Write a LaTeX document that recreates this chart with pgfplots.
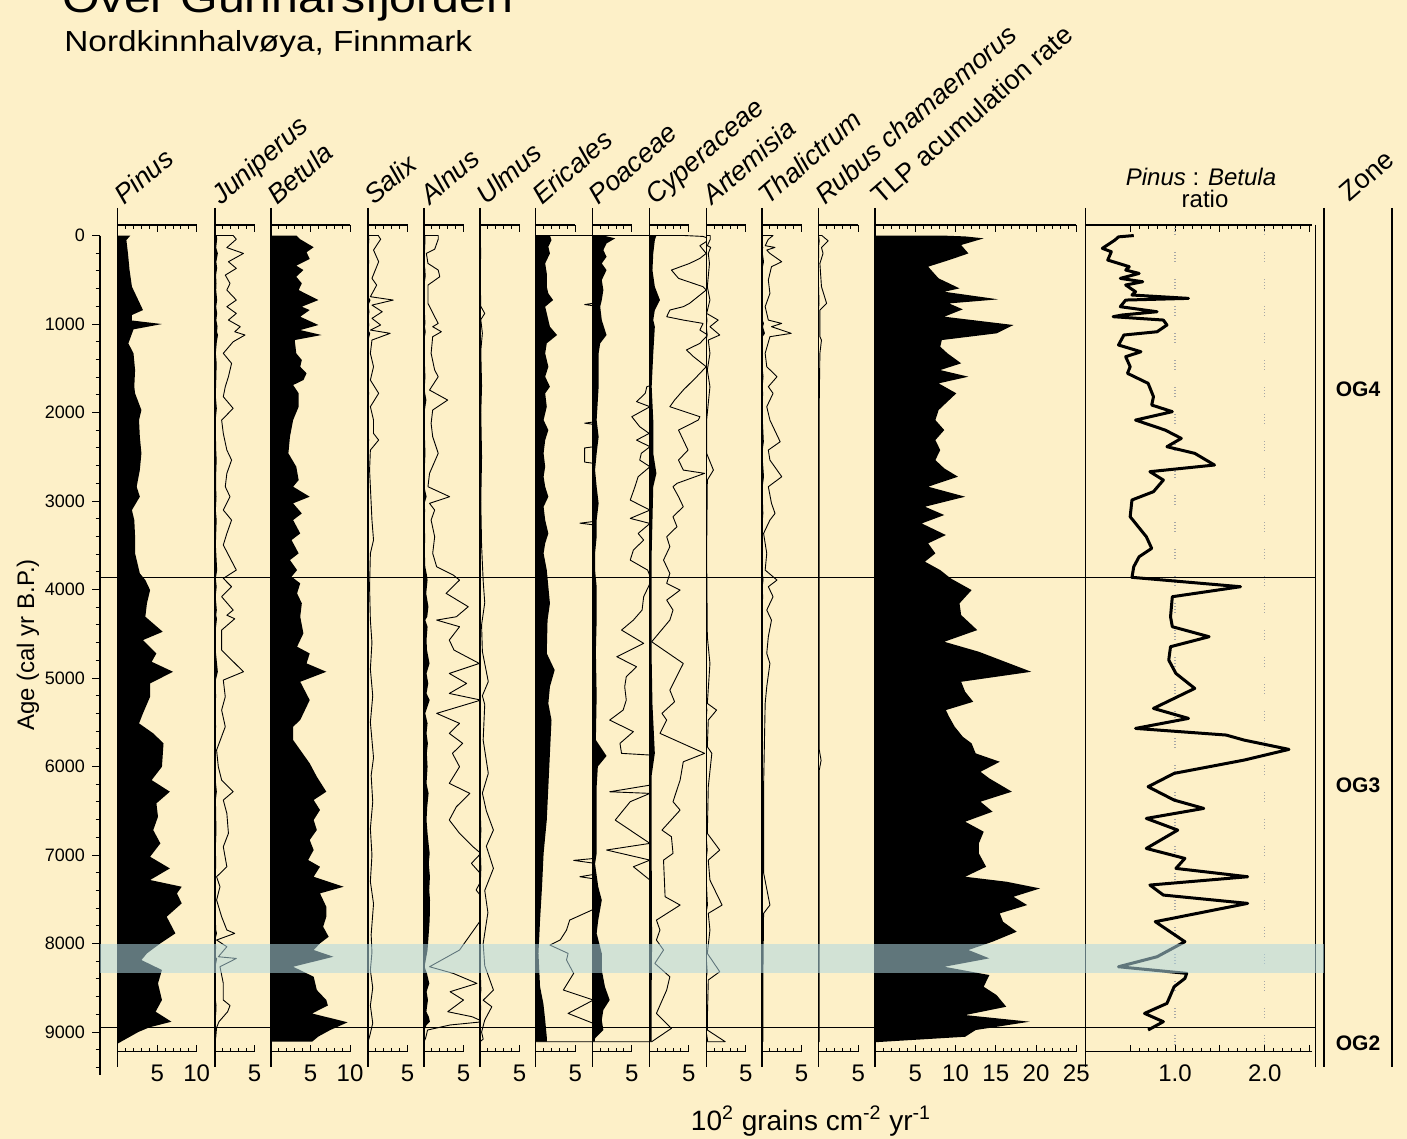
\documentclass[border=0pt]{standalone}
\usepackage{pgfplots}
\usepackage{pgfplotstable}
\pgfplotsset{compat=1.18}
\usepackage{fontspec}
\setmainfont{Liberation Sans}
\newfontfamily\widefont{Liberation Sans}[FakeStretch=1.15]
\definecolor{bg}{RGB}{253,240,200}
\definecolor{bandc}{RGB}{175,215,225}

\pgfplotsset{
  panel/.style={
    scale only axis, y dir=reverse, ymin=-119, ymax=9220, xmin=0,
    height=413.25pt, anchor=north west,
    axis x line*=box, axis y line=none,
    x axis line style={draw=none},
    ytick=\empty,
    tick align=inside, xtick pos=both, xticklabel pos=left,
    major tick length=3.5pt, minor tick length=2pt,
    tick style={black, line width=0.5pt},
    xticklabel style={font=\fontsize{12}{12}\selectfont, yshift=-3pt},
    /pgf/number format/assume math mode=true,
  },
  thin/.style={black, line width=0.45pt, line join=round},
  sil/.style={fill=black, draw=none},
}

\pgfplotstableread{
v a
0 0
2.3 0
2.7 42
1.5 136
3.6 202
1.7 296
2.7 371
1.3 447
1.9 541
1.5 616
2.7 729
1.5 804
2.7 880
1.7 955
3.2 1030
2.5 1087
3.8 1124
2.3 1200
1.05 1331
2.1 1444
1.7 1595
1.3 1708
1.05 1821
2.3 1953
0.84 2085
1.05 2236
1.5 2424
2.1 2537
1.5 2687
1.3 2838
1.9 2951
1.05 3102
2.1 3215
1.5 3366
1.05 3497
2.7 3780
1.05 3874
2.1 3968
0.84 4081
2.3 4232
1.5 4290
2.5 4330
0.84 4458
0.84 4684
3.6 4929
1.05 5023
1.3 5211
0.84 5362
1.3 5550
0.2 5814
0.42 6002
0.84 6153
2.3 6284
1.05 6379
1.5 6529
1.7 6755
1.05 6906
1.5 7132
0.2 7245
0.63 7358
0.2 7508
0.84 7697
1.5 7847
2.5 7885
0.2 7960
1.5 8036
0.42 8149
2.7 8168
0.63 8262
1.05 8450
1.05 8638
1.9 8700
1.6 8770
0.5 8883
0.2 8950
0.1 9053
0 9109
}\juni

\pgfplotstableread{
v a
0 0
1.3 0
1.6 42
0.7 164
1.35 296
0.5 484
1.1 560
0.3 691
3.2 729
0.5 786
1.8 861
0.5 936
1.6 1011
0.3 1068
2.8 1105
0.5 1181
0.3 1331
0.7 1482
0.3 1633
1.35 1783
0.3 1934
0.7 2085
0.7 2236
1.35 2311
0.3 2424
0.2 2650
0.3 2838
0.5 3215
0.7 3441
0.3 3591
0.2 3968
0.3 4345
0.5 4600
0.3 4900
0.6 5200
0.3 5500
0.7 5900
0.4 6100
0.6 6400
0.3 6700
0.5 7000
0.3 7300
0.7 7550
0.4 7900
0.5 8100
0.3 8300
0.6 8500
0.3 8700
0.6 8900
0.2 9050
0 9109
}\salix

\pgfplotstableread{
v a
0 0
1.8 0
1.8 42
1.35 155
0.3 202
0.5 315
1.8 390
2.0 465
0.5 560
0.5 616
0.5 767
1.35 917
1.8 993
1.1 1030
2.2 1087
1.1 1143
0.9 1331
1.35 1520
1.8 1595
0.7 1746
3.0 1859
1.1 1972
0.9 2123
1.1 2273
1.8 2461
0.7 2687
0.5 2838
3.25 2951
0.7 3026
1.35 3102
0.9 3215
1.35 3403
1.1 3591
1.6 3742
3.7 3836
4.5 3893
2.8 4043
5.6 4194
4.1 4307
1.6 4345
4.5 4420
3.2 4571
3.8 4684
7.0 4835
3.2 4948
5.4 5061
3.2 5174
7.2 5249
1.6 5399
4.5 5512
3.2 5625
4.9 5738
3.6 5851
4.5 6002
3.2 6190
5.8 6303
4.1 6454
3.2 6604
4.5 6755
6.2 6906
7.2 6981
6.0 7094
7.5 7245
6.6 7395
7.6 7508
7.2 7734
5.4 7960
4.5 8073
0.7 8262
3.7 8337
6.7 8450
3.3 8544
5.0 8638
3.0 8770
6.1 8827
7.5 8883
3.3 8920
0.45 8977
0.2 9070
0 9109
}\alnus

\pgfplotstableread{
v a
0 0
0.1 200
0 400
0.1 800
0.6 880
0.1 950
0.3 1105
0.1 1300
0.2 1700
0.1 2000
0.2 2500
0.1 3000
0.2 3500
0.4 3900
0.6 4150
0.2 4400
0.3 4700
1.05 5040
0.3 5200
0.6 5300
0.4 5700
1.05 6077
0.3 6300
0.8 6500
1.7 6718
0.8 6900
1.7 7151
0.6 7400
1.0 7650
0.4 8000
0.6 8250
1.7 8525
0.4 8640
1.5 8714
0.6 8864
0.2 9000
0.4 9080
0 9109
}\ulmus

\pgfplotstableread{
v a
0 0
0.5 0
0.5 42
0.13 115
0.55 134
0.25 202
0.4 315
0.13 578
0.46 729
0.04 880
1.5 955
0.46 1030
1.7 1124
0.25 1181
0.46 1331
0.13 1520
0.46 1708
0.25 1896
0.04 2085
0.04 2461
0.9 2650
0.13 2763
0.04 3591
0.13 4533
0.46 4835
0.13 5287
1.3 5362
0.25 5475
0.13 5776
0.7 5851
0.25 6228
0.13 6755
1.7 6944
0.25 7057
0.46 7283
2.0 7565
0.25 7659
0.46 7847
0.13 8111
1.7 8318
0.25 8412
0.13 8864
0.13 8977
2.4 9109
0 9109
}\artem

\pgfplotstableread{
v a
0 0
1.4 0
0.8 42
0.4 115
1.65 134
0.6 164
1.0 202
2.5 296
1.2 352
0.8 503
1.0 654
0.4 804
0.8 955
2.5 993
1.2 1030
3.7 1105
1.0 1143
0.4 1331
0.6 1482
1.9 1595
0.8 1708
1.4 1783
0.6 1934
1.0 2085
2.3 2330
0.8 2424
1.0 2537
2.5 2725
0.8 2838
1.2 3026
1.65 3140
1.0 3215
0.2 3366
0.6 3591
0.4 3780
1.9 3893
0.8 3968
1.4 4081
0.6 4232
1.2 4345
0.8 4533
0.6 4721
1.0 4835
0.6 5098
0.4 5287
0.2 6228
0.2 7200
1.0 7565
0.2 7659
0.1 8500
0.1 9109
0 9109
}\thal

\pgfplotstableread{
v a
0 0
0.4 0
1.2 60
0.35 136
0.55 202
0.15 315
0.35 578
1.0 766
0.15 842
0.15 1143
0.35 1181
0.15 1331
0.05 2000
0.05 5800
0.3 5930
0.05 6050
0.05 9109
0 9109
}\rubus

\begin{document}
\begin{tikzpicture}[x=0.5pt,y=-0.5pt]
\useasboundingbox (0,0) rectangle (1407,1139);
\clip (0,0) rectangle (1407,1139);
\fill[bg] (0,0) rectangle (1407,1139);

% ---------- Age axis ----------
\begin{axis}[scale only axis, at={(50pt,-117.75pt)}, anchor=north west,
  width=2pt, height=419.5pt, xmin=0, xmax=1, ymin=0, ymax=9480, y dir=reverse,
  axis y line*=left, axis x line=none,
  ytick={0,1000,...,9000}, minor ytick={200,400,...,9400},
  tick align=outside, major tick length=4pt, minor tick length=2.2pt,
  tick style={black, line width=0.5pt}, axis line style={line width=0.6pt},
  yticklabel style={font=\fontsize{9}{9}\selectfont},
  /pgf/number format/1000 sep={}, /pgf/number format/assume math mode=true]
\addplot[draw=none] coordinates {(0,0)};
\end{axis}

% ---------- Pinus ----------
\begin{axis}[panel, at={(58.85pt,-112.5pt)}, width=48.65pt, xmax=12.316,
  xtick={5,10}, minor xtick={1,2,3,4,6,7,8,9}]
\addplot[sil] coordinates {(0,0)(1.6,0)(1.1,51)(1.3,202)(1.5,390)(1.8,578)(2.4,691)(3.2,842)(1.8,898)(1.8,960)(5.6,1000)(2.0,1060)(1.35,1218)(2.0,1331)(2.2,1520)(2.1,1708)(2.2,1783)(3.0,1972)(2.7,2085)(2.8,2273)(3.0,2461)(2.8,2650)(2.4,2838)(2.8,2951)(1.8,3102)(2.1,3215)(2.2,3403)(2.2,3591)(2.8,3817)(3.5,3893)(4.1,4006)(3.7,4156)(3.5,4307)(5.7,4477)(3.2,4571)(4.9,4722)(4.3,4816)(7.0,4929)(4.1,5061)(4.1,5211)(3.2,5399)(2.7,5512)(4.5,5625)(5.8,5738)(5.6,6002)(4.3,6153)(6.6,6284)(4.9,6416)(5.1,6567)(4.5,6718)(5.4,6868)(4.1,7019)(6.6,7151)(4.1,7282)(8.1,7358)(7.5,7433)(8.1,7546)(6.2,7697)(7.3,7885)(5.4,7998)(3.7,8111)(3.0,8186)(5.6,8299)(5.1,8450)(5.6,8638)(4.8,8770)(6.8,8883)(4.0,8947)(2.6,9000)(0,9130)};
\end{axis}

% ---------- Juniperus ----------
\begin{axis}[panel, at={(107.5pt,-112.5pt)}, width=28pt, xmax=7.089,
  xtick={5}, minor xtick={1,2,3,4}]
\addplot[sil] table[x expr=\thisrow{v}/10, y=a]{\juni};
\addplot[thin] table[x=v, y=a]{\juni};
\end{axis}

% ---------- Betula ----------
\begin{axis}[panel, at={(135.5pt,-112.5pt)}, width=48.5pt, xmax=12.278,
  xtick={5,10}, minor xtick={1,2,3,4,6,7,8,9}]
\addplot[sil] coordinates {(0,0)(3.2,0)(3.7,42)(5.4,132)(4.5,189)(4.9,264)(3.2,340)(4.1,390)(3.2,465)(3.9,540)(3.5,616)(6.0,729)(3.9,804)(4.9,842)(3.7,917)(6.0,1011)(3.7,1068)(6.4,1124)(3.0,1181)(3.2,1331)(3.9,1407)(3.7,1482)(4.5,1557)(4.1,1633)(2.8,1689)(3.5,1783)(3.5,1934)(2.8,2085)(2.4,2273)(2.2,2461)(3.2,2612)(3.5,2763)(2.8,2838)(4.9,2951)(2.8,3026)(3.9,3140)(2.8,3215)(3.7,3366)(2.6,3441)(3.5,3591)(2.4,3667)(3.3,3780)(2.6,3855)(3.7,3930)(3.3,4043)(3.9,4156)(3.7,4307)(4.1,4495)(3.3,4646)(4.9,4722)(4.5,4834)(7.0,4929)(3.7,5042)(4.9,5249)(4.1,5399)(3.7,5474)(2.8,5550)(2.8,5700)(3.7,5813)(4.9,5964)(5.8,6115)(7.0,6284)(5.4,6378)(6.2,6491)(5.4,6604)(5.8,6717)(4.9,6830)(5.4,6943)(4.7,7056)(6.2,7132)(5.4,7245)(9.2,7358)(6.2,7433)(7.0,7584)(7.0,7697)(6.6,7810)(7.3,7923)(6.2,7998)(5.4,8073)(7.9,8149)(2.8,8262)(5.4,8375)(5.8,8525)(7.0,8638)(7.2,8700)(5.2,8790)(9.7,8890)(7.5,8977)(6.0,9050)(5.2,9109)(0,9109)};
\end{axis}

% ---------- Salix ----------
\begin{axis}[panel, at={(184pt,-112.5pt)}, width=28pt, xmax=7.089,
  xtick={5}, minor xtick={1,2,3,4}]
\addplot[sil] table[x expr=\thisrow{v}/10, y=a]{\salix};
\addplot[thin] table[x=v, y=a]{\salix};
\end{axis}

% ---------- Alnus ----------
\begin{axis}[panel, at={(212pt,-112.5pt)}, width=28pt, xmax=7.089,
  xtick={5}, minor xtick={1,2,3,4}]
\addplot[sil] table[x expr=\thisrow{v}/10, y=a]{\alnus};
\addplot[thin] table[x=v, y=a]{\alnus};
\end{axis}

% ---------- Ulmus ----------
\begin{axis}[panel, at={(240pt,-112.5pt)}, width=27.85pt, xmax=7.051,
  xtick={5}, minor xtick={1,2,3,4}]
\addplot[sil] table[x expr=\thisrow{v}/10, y=a]{\ulmus};
\addplot[thin] table[x=v, y=a]{\ulmus};
\end{axis}

% ---------- Ericales ----------
\begin{axis}[panel, at={(267.85pt,-112.5pt)}, width=28.3pt, xmax=7.165,
  xtick={5}, minor xtick={1,2,3,4}]
\addplot[sil] coordinates {(0,0)(1.8,0)(2.0,51)(1.6,127)(1.8,202)(1.2,315)(1.4,428)(1.4,578)(1.6,654)(2.2,729)(1.2,804)(1.6,955)(1.8,1030)(2.7,1124)(1.4,1218)(1.2,1331)(1.6,1482)(1.2,1595)(1.8,1708)(1.2,1783)(1.4,1934)(1.0,2085)(1.6,2198)(1.2,2311)(1.0,2461)(1.2,2612)(1.0,2725)(1.2,2838)(1.6,2951)(1.0,3064)(1.2,3215)(1.6,3366)(1.2,3478)(1.0,3591)(1.4,3780)(1.6,3968)(1.8,4156)(1.5,4345)(1.4,4721)(2.4,4910)(1.8,5098)(1.6,5287)(2.0,5475)(1.8,5851)(1.6,6228)(1.4,6605)(1.0,6981)(0.8,7358)(0.55,7735)(0.35,8111)(0.55,8488)(0.97,8676)(1.2,8864)(1.4,9053)(1.4,9109)(0,9109)};
\addplot[thin] coordinates {(0,0)(12,0)(12,700)(6.2,780)(12,850)(12,2050)(6.2,2120)(12,2190)(12,2330)(6.2,2400)(6.2,2560)(12,2630)(12,3180)(5.6,3250)(12,3320)(12,7000)(4.8,7060)(12,7150)(5.6,7245)(12,7330)(12,7560)(7.1,7622)(4.3,7735)(3.9,7848)(3.1,7960)(1.8,8017)(4.1,8111)(3.9,8186)(4.8,8337)(3.5,8525)(7.3,8638)(4.1,8789)(7.3,8902)(9,9000)(9,9109)(0,9109)};
\end{axis}

% ---------- Poaceae ----------
\begin{axis}[panel, at={(296.15pt,-112.5pt)}, width=28.5pt, xmax=7.215,
  xtick={5}, minor xtick={1,2,3,4}]
\addplot[sil] coordinates {(0,0)(1.4,0)(2.9,32)(1.8,89)(1.4,164)(1.8,240)(1.2,315)(1.8,390)(1.2,503)(1.4,616)(1.2,729)(1.0,804)(1.2,955)(1.6,1068)(1.8,1124)(1.0,1218)(0.8,1331)(0.8,1708)(0.55,2085)(0.8,2273)(0.55,2461)(0.35,2650)(0.55,2838)(0.8,3026)(0.55,3215)(0.55,3403)(0.35,3591)(0.35,3780)(0.55,3968)(0.55,4345)(0.45,4700)(0.55,5200)(0.45,5700)(1.8,5880)(0.7,6000)(0.55,6228)(0.55,6981)(0.35,7100)(0.75,7358)(1.2,7509)(0.75,7735)(0.55,7885)(1.2,8111)(1.2,8300)(1.6,8488)(2.2,8638)(1.4,8750)(1.2,8864)(1.4,8977)(0.35,9070)(0.3,9109)(0,9109)};
\addplot[thin] coordinates {(0,0)(9,0)(9,1650)(6.9,1708)(6.7,1783)(5.6,1877)(7.3,1934)(5.0,2047)(6.0,2160)(7.2,2236)(5.6,2311)(7.3,2386)(6.2,2461)(6.0,2537)(7.3,2612)(5.8,2725)(5.4,2838)(4.8,2989)(7.3,3102)(4.8,3196)(7.3,3253)(5.8,3366)(6.5,3441)(5.2,3554)(4.8,3667)(7.0,3780)(7.5,3893)(6.5,4081)(6.3,4232)(5.2,4345)(3.7,4458)(6.5,4608)(3.1,4759)(5.6,4872)(4.3,4985)(4.1,5098)(4.3,5249)(3.9,5362)(2.2,5475)(5.2,5606)(3.5,5738)(3.7,5851)(7.3,5870)(9,5950)(9,6150)(7.3,6210)(2.2,6285)(7.3,6303)(4.8,6397)(2.9,6605)(5.4,6755)(7.3,6868)(1.8,6943)(7.3,7057)(5.2,7132)(7.3,7283)(9,7350)(9,9109)(0,9109)};
\end{axis}

% ---------- Cyperaceae ----------
\begin{axis}[panel, at={(324.65pt,-112.5pt)}, width=28.5pt, xmax=7.215,
  xtick={5}, minor xtick={1,2,3,4}]
\addplot[sil] coordinates {(0,0)(0.9,0)(0.7,51)(0.5,202)(0.4,390)(0.7,578)(1.35,729)(0.7,842)(0.5,955)(0.7,1030)(0.5,1331)(0.3,1708)(0.5,2085)(0.5,2461)(0.9,2687)(0.5,2838)(0.4,3215)(0.3,3591)(0.3,3968)(0.3,4533)(0.3,4800)(0.4,5300)(0.7,5851)(0.3,6100)(0.3,7000)(0.35,8000)(0.3,8500)(0.3,9109)(0,9109)};
\addplot[thin] coordinates {(0,0)(4.5,0)(6.8,10)(7.7,40)(6.4,115)(7.2,202)(6.4,258)(5.1,315)(2.8,390)(3.7,484)(6.8,578)(7.2,616)(5.1,766)(4.3,804)(2.6,842)(2.2,917)(4.3,955)(6.8,993)(6.4,1068)(7.4,1124)(6.4,1218)(4.7,1293)(5.6,1369)(7.2,1482)(6.0,1595)(4.3,1746)(3.2,1859)(2.6,1934)(6.4,2047)(6.2,2085)(3.7,2198)(4.3,2311)(4.9,2424)(3.7,2537)(4.3,2650)(7.0,2687)(3.5,2800)(3.0,2838)(3.7,2951)(4.3,3064)(3.0,3177)(3.5,3290)(2.2,3403)(2.6,3516)(1.8,3667)(2.6,3818)(2.2,3930)(3.9,4006)(2.2,4119)(3.0,4232)(2.6,4345)(0.3,4590)(4.3,4835)(2.6,5136)(3.2,5268)(1.6,5399)(2.2,5475)(1.35,5625)(7.0,5851)(4.3,5946)(3.9,6153)(3.0,6397)(3.9,6492)(1.6,6718)(2.8,6793)(3.0,6981)(1.8,7057)(2.0,7471)(3.9,7565)(0.9,7735)(1.35,7847)(0.9,7960)(1.8,8073)(0.7,8224)(2.6,8375)(2.2,8525)(0.9,8789)(2.8,8958)(0.3,9109)(0,9109)};
\end{axis}

% ---------- Artemisia ----------
\begin{axis}[panel, at={(353.15pt,-112.5pt)}, width=27.85pt, xmax=7.051,
  xtick={5}, minor xtick={1,2,3,4}]
\addplot[sil] table[x expr=\thisrow{v}/10, y=a]{\artem};
\addplot[thin] table[x=v, y=a]{\artem};
\end{axis}

% ---------- Thalictrum ----------
\begin{axis}[panel, at={(381pt,-112.5pt)}, width=28.35pt, xmax=7.177,
  xtick={5}, minor xtick={1,2,3,4}]
\addplot[sil] table[x expr=\thisrow{v}/10, y=a]{\thal};
\addplot[thin] table[x=v, y=a]{\thal};
\end{axis}

% ---------- Rubus ----------
\begin{axis}[panel, at={(409.35pt,-112.5pt)}, width=28.15pt, xmax=7.127,
  xtick={5}, minor xtick={1,2,3,4}]
\addplot[sil] table[x expr=\thisrow{v}/10, y=a]{\rubus};
\addplot[thin] table[x=v, y=a]{\rubus};
\end{axis}

% ---------- TLP ----------
\begin{axis}[panel, at={(437.5pt,-112.5pt)}, width=105.15pt, xmax=26.12,
  xtick={5,10,15,20,25}, minor xtick={1,...,24}]
\addplot[sil] coordinates {(0,0)(8.3,0)(11.2,10)(13.5,32)(10.7,107)(11.6,202)(9.2,277)(6.6,352)(7.9,484)(10.5,597)(8.6,635)(15.3,721)(9.2,767)(10.9,834)(8.6,917)(17.2,1011)(15.1,1105)(8.3,1181)(8.1,1256)(9.0,1331)(10.7,1444)(8.1,1520)(11.6,1595)(7.9,1670)(10.1,1783)(9.0,1877)(7.9,1972)(7.5,2085)(8.6,2198)(7.5,2311)(8.1,2424)(7.5,2537)(8.6,2631)(10.3,2725)(6.6,2838)(11.2,2951)(6.2,3064)(8.6,3158)(5.8,3253)(8.8,3384)(6.6,3478)(7.5,3591)(6.2,3685)(8.1,3780)(9.4,3874)(12.0,4006)(10.5,4156)(10.7,4288)(12.7,4458)(8.6,4590)(12.9,4703)(19.4,4929)(10.7,5042)(11.2,5155)(12.2,5268)(8.8,5362)(9.2,5437)(9.9,5550)(10.9,5663)(12.0,5738)(12.5,5851)(15.5,5946)(13.1,6059)(14.2,6134)(17.0,6284)(13.1,6397)(14.6,6510)(11.2,6623)(13.5,6736)(12.9,6868)(12.9,6981)(13.8,7132)(11.2,7245)(16.3,7301)(20.5,7377)(17.2,7471)(18.9,7565)(15.5,7659)(15.9,7753)(17.6,7866)(14.6,7979)(11.6,8073)(14.2,8167)(8.6,8262)(14.2,8356)(13.5,8488)(15.1,8582)(16.3,8714)(11.2,8808)(19.2,8883)(12.5,8977)(11.2,9053)(0,9115)};
\end{axis}

% ---------- Pinus:Betula ratio ----------
\begin{axis}[panel, at={(542.65pt,-112.5pt)}, width=115pt, xmax=2.564,
  xtick={0.5,1,1.5,2,2.5}, xticklabels={,1.0,,2.0,}, minor x tick num=4]
\addplot[gray!70, line width=0.6pt, dash pattern=on 0.5pt off 1pt on 0.5pt off 1pt on 0.5pt off 1pt on 0.5pt off 8.5pt] coordinates {(1,-119)(1,9220)};
\addplot[gray!70, line width=0.6pt, dash pattern=on 0.5pt off 1pt on 0.5pt off 1pt on 0.5pt off 1pt on 0.5pt off 8.5pt] coordinates {(2,-119)(2,9220)};
\addplot[black, line width=1.5pt, line join=round] coordinates {(0.54,0)(0.37,15)(0.33,51)(0.19,145)(0.29,183)(0.25,277)(0.49,352)(0.45,390)(0.60,428)(0.39,484)(0.64,522)(0.45,559)(0.56,635)(0.52,672)(1.15,710)(0.45,729)(0.39,804)(0.80,861)(0.41,898)(0.31,917)(0.87,955)(0.91,1011)(0.80,1087)(0.43,1124)(0.37,1237)(0.62,1313)(0.45,1369)(0.50,1482)(0.47,1557)(0.70,1670)(0.76,1821)(0.74,1915)(0.97,1990)(0.56,2085)(0.89,2198)(1.07,2292)(0.91,2386)(1.22,2461)(1.44,2593)(0.72,2668)(0.87,2763)(0.76,2894)(0.52,2988)(0.50,3177)(0.68,3403)(0.74,3535)(0.60,3629)(0.54,3742)(0.52,3862)(1.73,3968)(0.97,4081)(0.95,4307)(0.97,4420)(1.38,4533)(0.95,4646)(0.93,4797)(1.01,4948)(1.22,5117)(0.76,5343)(1.15,5456)(0.56,5569)(1.57,5644)(1.77,5701)(2.27,5806)(1.77,5927)(0.99,6077)(0.70,6228)(0.99,6379)(1.32,6473)(0.68,6586)(1.03,6718)(0.68,6925)(1.11,7038)(1.01,7151)(1.81,7245)(0.72,7339)(0.87,7452)(1.81,7546)(0.78,7753)(1.11,7979)(0.80,8149)(0.37,8262)(1.13,8337)(1.11,8394)(0.99,8488)(0.91,8676)(0.66,8789)(0.87,8883)(0.70,8977)};
\end{axis}

% ---------- frames (TikZ decorations, pixel coordinates) ----------
\foreach \L/\R in {117.7/196.7, 215/254.5, 271/350, 368/407.5, 424/463.5, 480/519.5, 535.7/575.2, 592.3/631.8, 649.3/688.8, 706.3/745.8, 762/801.5, 818.7/858.2, 875/1076.25, 1085.3/1312.2}{
  \draw[line width=0.6pt] (\L,208) -- (\L,1067);
  \draw[line width=0.6pt] (\L,225) -- (\R,225);
  \draw[line width=0.6pt] (\L,1051.5) -- (\R,1051.5);
}
\draw[line width=0.6pt] (1315.3,225) -- (1315.3,1067);
\draw[line width=0.6pt] (1324,208) -- (1324,1067);
\draw[line width=0.6pt] (1392,208) -- (1392,1067);

% ---------- overlay: zone lines, band ----------
\begin{axis}[scale only axis, at={(0pt,0pt)}, anchor=north west,
  width=703.5pt, height=569.5pt, xmin=0, xmax=1407, ymin=0, ymax=1139,
  y dir=reverse, hide axis, clip=false]
\addplot[black, line width=0.6pt] coordinates {(100,577.7)(1315.3,577.7)};
\addplot[black, line width=0.6pt] coordinates {(100,1027.5)(1315.3,1027.5)};
\addplot[fill=bandc, draw=none, fill opacity=0.55] coordinates {(100,943.5)(1324,943.5)(1324,973.1)(100,973.1)} -- cycle;
\end{axis}

% ---------- texts ----------
\node[anchor=base west, inner sep=0, font=\widefont\fontsize{21}{21}\selectfont] at (62,13) {Over Gunnarsfjorden};
\node[anchor=base west, inner sep=0, font=\widefont\fontsize{14.5}{14.5}\selectfont] at (64,52) {Nordkinnhalvøya, Finnmark};

\tikzset{lab/.style={anchor=base west, inner sep=0, rotate=41, font=\fontsize{13.5}{13.5}\selectfont\itshape}}
\node[lab] at (124,206) {Pinus};
\node[lab] at (221,206) {Juniperus};
\node[lab] at (277,206) {Betula};
\node[lab] at (374,206) {Salix};
\node[lab] at (430,206) {Alnus};
\node[lab] at (486,206) {Ulmus};
\node[lab] at (541.7,206) {Ericales};
\node[lab] at (598.3,206) {Poaceae};
\node[lab] at (655.3,206) {Cyperaceae};
\node[lab] at (712.3,206) {Artemisia};
\node[lab] at (768,206) {Thalictrum};
\node[lab] at (824.7,206) {Rubus chamaemorus};
\node[lab, font=\fontsize{13.5}{13.5}\selectfont] at (881,206) {TLP acumulation rate};
\node[lab, font=\fontsize{13.5}{13.5}\selectfont] at (1349,203) {Zone};

\node[anchor=base, inner sep=0, font=\fontsize{12}{12}\selectfont] at (1201,186) {\textit{Pinus} : \textit{Betula}};
\node[anchor=base, inner sep=0, font=\fontsize{12}{12}\selectfont] at (1205,208) {ratio};

\node[inner sep=0, font=\bfseries\fontsize{10.5}{10.5}\selectfont] at (1358,389) {OG4};
\node[inner sep=0, font=\bfseries\fontsize{10.5}{10.5}\selectfont] at (1358,785) {OG3};
\node[inner sep=0, font=\bfseries\fontsize{10.5}{10.5}\selectfont] at (1358,1043) {OG2};

\node[rotate=90, inner sep=0, font=\fontsize{12}{12}\selectfont] at (28,645) {Age (cal yr B.P.)};
\node[anchor=base, inner sep=0, font=\fontsize{14}{14}\selectfont] at (811,1130) {10\textsuperscript{2} grains cm\textsuperscript{-2} yr\textsuperscript{-1}};
\end{tikzpicture}
\end{document}
